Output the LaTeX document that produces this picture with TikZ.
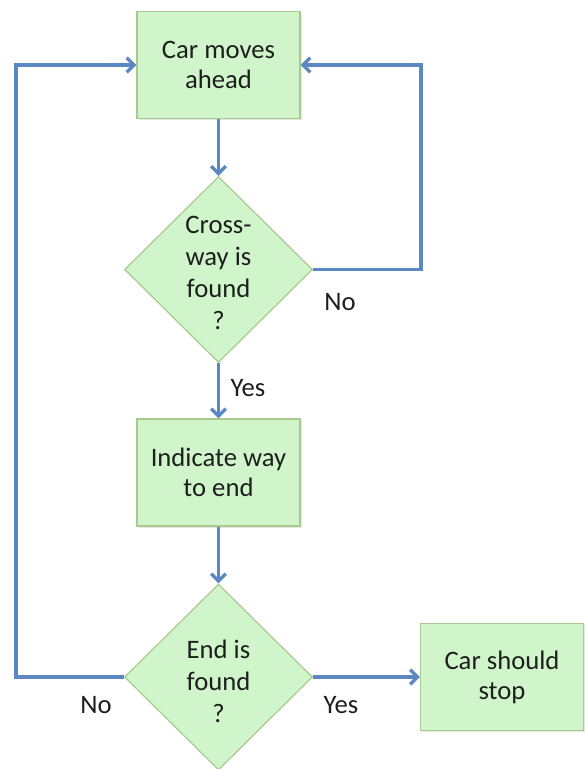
\documentclass[tikz,border=0pt]{standalone}
\usepackage{fontspec}
\setmainfont{Carlito}
\usetikzlibrary{arrows.meta,shapes.geometric,shadows}
\definecolor{boxfill}{HTML}{D0F5CB}
\definecolor{boxline}{HTML}{A9C98F}
\definecolor{arrowblue}{HTML}{5B88C2}
\definecolor{txt}{HTML}{1E1E1E}
\begin{document}
\begin{tikzpicture}[x=0.75pt,y=-0.75pt,
  stepbox/.style={rectangle, draw=boxline, fill=boxfill, line width=0.9pt,
    minimum width=122.25pt, minimum height=80.25pt, inner sep=0pt, align=center,
    text=txt, font=\fontsize{20}{22.5}\selectfont,
    drop shadow={shadow xshift=1.2pt, shadow yshift=-1.2pt, opacity=0.2}},
  decision/.style={diamond, draw=boxline, fill=boxfill, line width=0.9pt,
    minimum width=141pt, minimum height=139.5pt, inner sep=0pt},
  dtext/.style={align=center, text=txt, font=\fontsize{20}{24}\selectfont, inner sep=0pt},
  lbl/.style={text=txt, font=\fontsize{20}{24}\selectfont, inner sep=0pt},
  flow/.style={draw=arrowblue, line width=2.5pt,
    -{Straight Barb[length=5.5pt,width=11pt]}},
]
\useasboundingbox (0,0) rectangle (585,769);

\node[stepbox] (b1) at (218.5,65) {Car moves\\ahead};
\node[decision] (d1) at (218.5,269.5) {};
\node[dtext] (t1) at (218.5,273) {Cross-\\way is\\found\\?};
\node[stepbox] (b2) at (218.5,472.5) {Indicate way\\to end};
\node[decision] (d2) at (218.5,677) {};
\node[dtext] (t2) at (218.5,681) {End is\\found\\?};
\node[stepbox] (b3) at (502,677) {Car should\\stop};

\coordinate (rc) at (421,269.5);
\coordinate (lc) at (16,677);

\draw[flow] (b1.south) -- (d1.north);
\draw[flow] (d1.east) -- (rc) |- (b1.east);
\draw[flow] (d1.south) -- (b2.north);
\draw[flow] (b2.south) -- (d2.north);
\draw[flow] (d2.west) -- (lc) |- (b1.west);
\draw[flow] (d2.east) -- (b3.west);

\node[lbl] (no1) at (340,302) {No};
\node[lbl] (yes1) at (248,388) {Yes};
\node[lbl] (no2) at (96,705) {No};
\node[lbl] (yes2) at (341,705) {Yes};
\end{tikzpicture}
\end{document}
